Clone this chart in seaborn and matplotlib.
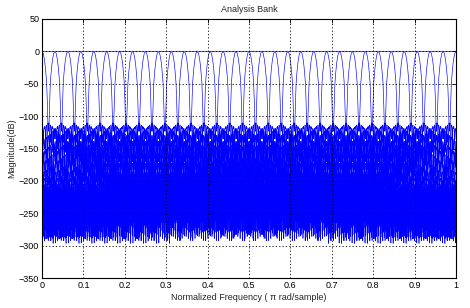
import numpy as np
import pandas as pd
import matplotlib
matplotlib.use("Agg")
import matplotlib.pyplot as plt
import seaborn as sns

# ---- data ----
channel_centers = [0.0, 0.03125, 0.0625, 0.09375, 0.125, 0.15625, 0.1875, 0.21875,
                   0.25, 0.28125, 0.3125, 0.34375, 0.375, 0.40625, 0.4375, 0.46875,
                   0.5, 0.53125, 0.5625, 0.59375, 0.625, 0.65625, 0.6875, 0.71875,
                   0.75, 0.78125, 0.8125, 0.84375, 0.875, 0.90625, 0.9375, 0.96875, 1.0]
# main-lobe profile: offset from channel centre -> magnitude (dB)
lobe_offset = [0.0, 0.003, 0.006, 0.008, 0.010, 0.0113, 0.0125, 0.0135, 0.0142]
lobe_db = [0, -3, -13, -24, -38, -50, -70, -95, -110]
# stop-band envelope: distance from channel centre -> peak sidelobe level (dB)
env_dist = [0.0142, 0.02, 0.031, 0.06, 0.10, 0.15, 0.20, 0.30, 0.40, 0.50, 0.60,
            0.70, 0.80, 0.90, 1.0]
env_db = [-108, -113, -120, -138, -160, -185, -203, -218, -224, -236, -222,
          -240, -228, -232, -226]
# sidelobe ripple below the envelope (dB), repeating pattern along the stop band
ripple_db = [0, 1, 4, 9, 24, 8, 2, 0, 1, 3, 7, 15, 6, 1, 0, 2, 5, 12, 41, 10, 3, 0,
             1, 4, 8, 19, 7, 2, 0, 1, 3, 6, 14, 5, 1, 0, 2, 6, 16, 58, 12, 4, 1, 0,
             2, 5, 11, 30, 9, 2, 0, 1, 3]
# overall response (flat line at 0 dB)
total_f = [0.0, 1.0]
total_db = [0.0, 0.0]

xticks = [0, 0.1, 0.2, 0.3, 0.4, 0.5, 0.6, 0.7, 0.8, 0.9, 1]
xtick_labels = ["0", "0.1", "0.2", "0.3", "0.4", "0.5", "0.6", "0.7", "0.8", "0.9", "1"]
yticks = [50, 0, -50, -100, -150, -200, -250, -300, -350]

# ---- build long-form table ----
n_grid = 2049
f = np.linspace(0.0, 1.0, n_grid)
rip = np.array(ripple_db, dtype=float)
rows = []
for k, c in enumerate(channel_centers):
    d = np.abs(f - c)
    idx = np.rint(d * (n_grid - 1)).astype(int)
    lobe = np.interp(d, lobe_offset, lobe_db)
    stop = np.interp(d, env_dist, env_db) - rip[idx % len(rip)]
    y = np.where(d <= lobe_offset[-1], lobe, stop)
    rows.append(pd.DataFrame({"f": f, "db": y, "ch": k}))
df = pd.concat(rows, ignore_index=True)
tot = pd.DataFrame({"f": total_f, "db": total_db, "ch": -1})

# ---- plot ----
sns.set_style("white")
plt.rcParams["font.family"] = ["Liberation Sans", "DejaVu Sans"]
fig = plt.figure(figsize=(4.7, 3.08), dpi=100)
ax = fig.add_axes([42 / 470, 1 - 278 / 308, (456 - 42) / 470, (278 - 19) / 308])

sns.lineplot(data=df, x="f", y="db", units="ch", estimator=None, sort=False,
             color=(0, 0, 1), lw=0.45, ax=ax, legend=False)
sns.lineplot(data=tot, x="f", y="db", color=(0.35, 0.35, 1), lw=0.8, ax=ax,
             legend=False)

ax.set_xlim(0, 1)
ax.set_ylim(-350, 50)
ax.set_xticks(xticks)
ax.set_xticklabels(xtick_labels)
ax.set_yticks(yticks)
ax.grid(True, linestyle=(0, (1.5, 2.5)), color="black", lw=0.6)
ax.set_axisbelow(False)
ax.tick_params(direction="in", length=3, width=0.6, labelsize=6.5, pad=2,
               top=True, right=True, colors="black")
for s in ax.spines.values():
    s.set_visible(True)
    s.set_color("black")
    s.set_linewidth(0.8)
ax.set_title("Analysis Bank", fontsize=6.5, pad=5)
ax.set_xlabel("Normalized Frequency ( \u03c0 rad/sample)", fontsize=6.5, labelpad=2)
ax.set_ylabel("Magnitude(dB)", fontsize=6.5, labelpad=2)

fig.savefig("out.png", dpi=100)
